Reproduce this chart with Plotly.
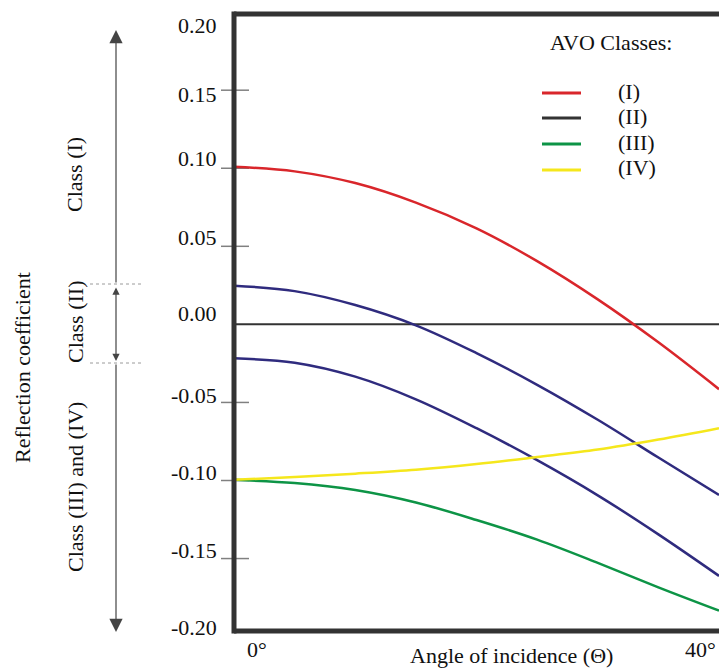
import plotly.graph_objects as go

# ---------------- data ----------------
angles = [0, 5, 10, 15, 20, 25, 30, 35, 40]
class_I = [0.1010, 0.0980, 0.0905, 0.0780, 0.0615, 0.0405, 0.0160, -0.0115, -0.0415]
class_II_pos = [0.0248, 0.0213, 0.0124, -0.0006, -0.0184, -0.0387, -0.0611, -0.0853, -0.1093]
class_II_neg = [-0.0217, -0.0246, -0.0335, -0.0480, -0.0665, -0.0870, -0.1095, -0.1345, -0.1611]
class_III = [-0.0996, -0.1016, -0.1061, -0.1141, -0.1253, -0.1379, -0.1528, -0.1685, -0.1834]
class_IV = [-0.0996, -0.0977, -0.0956, -0.0931, -0.0895, -0.0850, -0.0802, -0.0738, -0.0665]

y_tick_vals = [0.20, 0.15, 0.10, 0.05, 0.00, -0.05, -0.10, -0.15, -0.20]
y_tick_text = ["0.20", "0.15", "0.10", "0.05", "0.00", "-0.05", "-0.10", "-0.15", "-0.20"]
x_tick_vals = [0, 40]
x_tick_text = ["0°", "40°"]
legend_names = ["(I)", "(II)", "(III)", "(IV)"]
legend_colors = ["#d9262b", "#333333", "#0d9446", "#f5e71c"]

FONT = "Liberation Serif, Times New Roman, serif"
RED, BLUE, GREEN, YELLOW = "#d9262b", "#2f2b7e", "#0d9446", "#f5e71c"
Y_MIN, Y_MAX = -0.1964, 0.1988

fig = go.Figure()
series = [
    ("Class (I)", class_I, RED),
    ("Class (II) +", class_II_pos, BLUE),
    ("Class (II) -", class_II_neg, BLUE),
    ("Class (III)", class_III, GREEN),
    ("Class (IV)", class_IV, YELLOW),
]
for name, vals, col in series:
    fig.add_trace(go.Scatter(x=angles, y=vals, mode="lines", name=name,
                             line=dict(color=col, width=2.5, shape="spline", smoothing=1.0),
                             showlegend=False, hoverinfo="x+y+name"))

shapes = []
annotations = []

def v2paper(v):
    return (v - Y_MIN) / (Y_MAX - Y_MIN)

def py2paper(py):
    return (631 - py) / 617

# zero line
shapes.append(dict(type="line", xref="paper", yref="y", x0=0, x1=1, y0=0, y1=0,
                   line=dict(color="#333333", width=2), layer="below"))
# frame (left, top, bottom)
frame = dict(color="#333333", width=5)
shapes.append(dict(type="line", xref="paper", yref="paper", x0=0, x1=0, y0=-0.004, y1=1.004, line=frame, layer="above"))
shapes.append(dict(type="line", xref="paper", yref="paper", x0=0, x1=1.01, y0=1, y1=1, line=frame, layer="above"))
shapes.append(dict(type="line", xref="paper", yref="paper", x0=0, x1=1.01, y0=0, y1=0, line=frame, layer="above"))

# y ticks (crossing the axis) and labels
label_shift = {"0.20": -13, "0.15": -4, "0.10": 10, "0.05": 9, "0.00": 11,
               "-0.05": 6.5, "-0.10": 7.5, "-0.15": 8.5, "-0.20": 9}
for v, t in zip(y_tick_vals, y_tick_text):
    if t not in ("0.20", "-0.20", "0.00"):
        shapes.append(dict(type="line", xref="paper", yref="y", xsizemode="pixel", xanchor=0,
                           x0=-13, x1=15, y0=v, y1=v, line=dict(color="#808080", width=1.5),
                           layer="below"))
    annotations.append(dict(xref="paper", yref="paper", x=0, y=v2paper(v), text=t, showarrow=False,
                            xanchor="right", yanchor="middle", xshift=-15, yshift=label_shift[t],
                            font=dict(family=FONT, size=22, color="#111111")))

# x tick labels
x_shift = {"0°": 23, "40°": -19}
for v, t in zip(x_tick_vals, x_tick_text):
    annotations.append(dict(xref="x", yref="paper", x=v, y=0, text=t, showarrow=False,
                            xanchor="center", yanchor="middle", xshift=x_shift[t], yshift=-18,
                            font=dict(family=FONT, size=22, color="#111111")))
annotations.append(dict(xref="paper", yref="paper", x=(511 - 234) / 485, y=0, text="Angle of incidence (Θ)",
                        showarrow=False, xanchor="center", yanchor="middle", yshift=-24,
                        font=dict(family=FONT, size=22, color="#111111")))

# legend (manual)
annotations.append(dict(xref="paper", yref="paper", x=(611 - 234) / 485, y=py2paper(43),
                        text="AVO Classes:", showarrow=False, xanchor="center", yanchor="middle",
                        font=dict(family=FONT, size=22, color="#111111")))
leg_y = [93, 118, 144, 170]
for name, col, py in zip(legend_names, legend_colors, leg_y):
    yp = py2paper(py)
    shapes.append(dict(type="line", xref="paper", yref="paper", x0=(542 - 234) / 485, x1=(581 - 234) / 485,
                       y0=yp, y1=yp, line=dict(color=col, width=3)))
    annotations.append(dict(xref="paper", yref="paper", x=(616 - 234) / 485, y=yp, yshift=2, text=name,
                            showarrow=False, xanchor="left", yanchor="middle",
                            font=dict(family=FONT, size=22, color="#111111")))

# left class range arrows
ax_x = (116 - 234) / 485
annotations.append(dict(xref="paper", yref="paper", x=ax_x, y=py2paper(30), ax=0, ay=254,
                        text="", showarrow=True, arrowhead=2, arrowsize=2.2, arrowwidth=1.2,
                        arrowcolor="#444444"))
annotations.append(dict(xref="paper", yref="paper", x=ax_x, y=py2paper(632), ax=0, ay=-269,
                        text="", showarrow=True, arrowhead=2, arrowsize=2.2, arrowwidth=1.2,
                        arrowcolor="#444444"))
annotations.append(dict(xref="paper", yref="paper", x=ax_x, y=py2paper(361), ax=0, ay=-75,
                        text="", showarrow=True, arrowhead=2, arrowsize=1.2, arrowwidth=1.2,
                        arrowside="end+start", startarrowhead=2, startarrowsize=1.2,
                        arrowcolor="#444444"))
for py in (284, 363):
    shapes.append(dict(type="line", xref="paper", yref="paper", x0=(90 - 234) / 485, x1=(144 - 234) / 485,
                       y0=py2paper(py), y1=py2paper(py), line=dict(color="#9a9a9a", width=1, dash="dot")))

for text, px, py in [("Class (I)", 75, 175), ("Class (II)", 75, 322),
                     ("Class (III) and (IV)", 75, 487), ("Reflection coefficient", 22, 368)]:
    annotations.append(dict(xref="paper", yref="paper", x=(px - 234) / 485, y=py2paper(py), text=text,
                            textangle=-90, showarrow=False, xanchor="center", yanchor="middle",
                            font=dict(family=FONT, size=22, color="#111111")))

fig.update_layout(
    width=719, height=668,
    margin=dict(l=234, r=0, t=14, b=37),
    paper_bgcolor="white", plot_bgcolor="white",
    xaxis=dict(range=[0, 40], showgrid=False, zeroline=False, showticklabels=False, showline=False, ticks=""),
    yaxis=dict(range=[Y_MIN, Y_MAX], showgrid=False, zeroline=False, showticklabels=False, showline=False, ticks=""),
    shapes=shapes, annotations=annotations,
)

fig.write_html("out.html", config={"displayModeBar": False},
               post_script="document.body.style.margin='0px';")
